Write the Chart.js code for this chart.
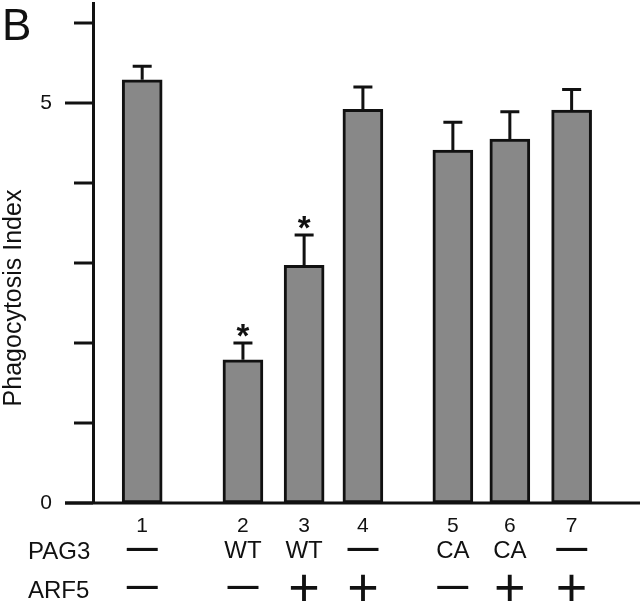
<!DOCTYPE html>
<html>
<head>
<meta charset="utf-8">
<script src="https://cdn.jsdelivr.net/npm/chart.js@4"></script>
<style>
  html, body { margin: 0; padding: 0; background: #fff; }
  #wrap { width: 640px; height: 606px; position: relative; }
</style>
</head>
<body>
<div id="wrap"><canvas id="chart"></canvas></div>
<script>
const lanes = ["1", "2", "3", "4", "5", "6", "7"];
const pag3 = ["—", "WT", "WT", "—", "CA", "CA", "—"];
const arf5 = ["—", "—", "+", "+", "—", "+", "+"];
// lane positions along the x axis (gaps between groups)
const slots = [0.82, 2.5, 3.52, 4.5, 6.0, 6.95, 7.98];
const means = [5.29, 1.79, 2.97, 4.92, 4.41, 4.55, 4.91];
const errTop = [5.46, 2.0, 3.35, 5.2, 4.76, 4.89, 5.17];
const marks = ["", "*", "*", "", "", "", ""];
const yTicks = [0, 1, 2, 3, 4, 5, 6];
const yLabelled = [0, 5];

const FONT = '"Liberation Sans", Arial, Helvetica, sans-serif';
const INK = "#111";

// draw text so that its visible ink is centred on (x, yc)
function inkText(ctx, text, x, yc, font, align) {
  ctx.font = font;
  ctx.textAlign = align || "center";
  ctx.textBaseline = "alphabetic";
  const m = ctx.measureText(text);
  const base = yc + (m.actualBoundingBoxAscent - m.actualBoundingBoxDescent) / 2;
  ctx.fillText(text, x, base);
}

const overlay = {
  id: "overlay",
  afterDatasetsDraw(chart) {
    const { ctx, chartArea, scales: { x, y } } = chart;
    ctx.save();
    ctx.strokeStyle = INK;
    ctx.fillStyle = INK;
    ctx.lineWidth = 3;
    ctx.lineCap = "butt";

    // error bars + significance marks
    means.forEach((m, i) => {
      const px = x.getPixelForValue(slots[i]);
      const top = y.getPixelForValue(m);
      const e = y.getPixelForValue(errTop[i]);
      ctx.beginPath();
      ctx.moveTo(px, top);
      ctx.lineTo(px, e);
      ctx.moveTo(px - 9.5, e);
      ctx.lineTo(px + 9.5, e);
      ctx.stroke();
      if (marks[i]) inkText(ctx, marks[i], px, e - 13, "bold 33px " + FONT);
    });

    // y tick marks
    yTicks.forEach(v => {
      const py = y.getPixelForValue(v);
      const len = yLabelled.includes(v) ? 28 : 19;
      ctx.beginPath();
      ctx.moveTo(chartArea.left - len, py);
      ctx.lineTo(chartArea.left, py);
      ctx.stroke();
    });

    // baseline
    const y0 = y.getPixelForValue(0);
    ctx.beginPath();
    ctx.moveTo(chartArea.left - 28, y0);
    ctx.lineTo(chart.width, y0);
    ctx.stroke();

    // y axis title
    ctx.save();
    ctx.translate(14, 298);
    ctx.rotate(-Math.PI / 2);
    inkText(ctx, "Phagocytosis Index", 0, 0, "25px " + FONT);
    ctx.restore();

    // panel letter
    ctx.textAlign = "left";
    ctx.textBaseline = "alphabetic";
    ctx.font = "44px " + FONT;
    ctx.fillText("B", 2, 40);

    // lane numbers and treatment rows
    lanes.forEach((lab, i) => {
      const px = x.getPixelForValue(slots[i]);
      inkText(ctx, lab, px, 525, "21px " + FONT);
      [[pag3[i], 549], [arf5[i], 587]].forEach(([t, yc]) => {
        if (t === "—") inkText(ctx, t, px, yc, "bold 31px " + FONT);
        else if (t === "+") inkText(ctx, t, px, yc, "54px " + FONT);
        else inkText(ctx, t, px, yc, "24px " + FONT);
      });
    });
    inkText(ctx, "PAG3", 28, 550, "24px " + FONT, "left");
    inkText(ctx, "ARF5", 28, 589, "24px " + FONT, "left");
    ctx.restore();
  }
};

new Chart(document.getElementById("chart"), {
  type: "bar",
  data: {
    datasets: [{
      data: means.map((m, i) => ({ x: slots[i], y: m })),
      backgroundColor: "#888888",
      borderColor: INK,
      borderWidth: 3,
      borderSkipped: false,
      barThickness: 40
    }]
  },
  options: {
    responsive: true,
    maintainAspectRatio: false,
    animation: false,
    layout: { padding: { top: 3, right: 0, bottom: 103, left: 0 } },
    plugins: { legend: { display: false }, tooltip: { enabled: false } },
    scales: {
      x: { type: "linear", min: 0, max: 9.12, display: false, offset: false },
      y: {
        min: 0,
        max: 6.25,
        afterFit: s => {
          s.width = 93;
          s.paddingTop = 0;
          s.paddingBottom = 0;
        },
        afterBuildTicks: s => { s.ticks = yTicks.map(v => ({ value: v })); },
        grid: { display: false, drawTicks: false },
        border: { display: true, color: INK, width: 3 },
        ticks: {
          padding: 41,
          color: INK,
          font: { family: FONT, size: 21 },
          callback: v => (yLabelled.includes(v) ? String(v) : "")
        }
      }
    }
  },
  plugins: [overlay]
});
</script>
</body>
</html>
